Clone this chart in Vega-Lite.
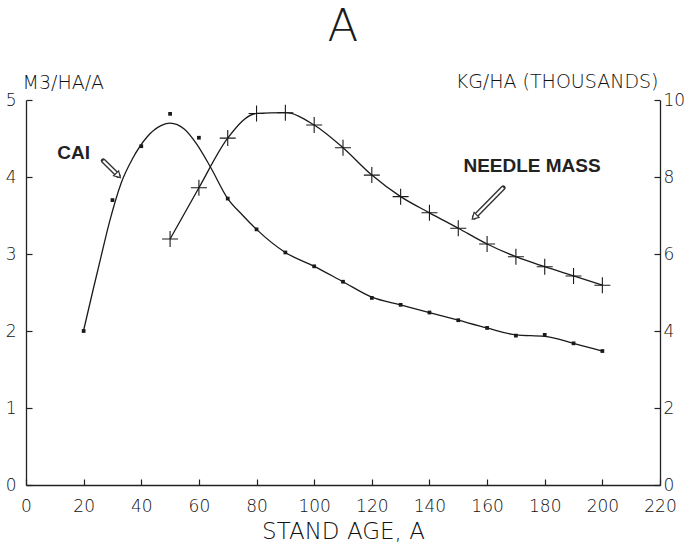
{
  "$schema": "https://vega.github.io/schema/vega-lite/v6.json",
  "width": 634,
  "height": 385,
  "autosize": "none",
  "padding": {"left": 26, "top": 100, "right": 30, "bottom": 64},
  "background": "white",
  "title": {"text": "A", "fontSize": 45, "font": "DejaVu Sans", "fontWeight": 300, "color": "#1a1a1a", "anchor": "middle", "frame": "group", "offset": 22},
  "config": {
    "view": {"stroke": null},
    "axis": {"labelFont": "DejaVu Sans", "labelFontWeight": 200, "labelColor": "#111", "labelFontSize": 17, "titleFont": "DejaVu Sans", "titleFontWeight": 200, "titleColor": "#111", "domainColor": "#222", "tickColor": "#222", "domainWidth": 1.3, "tickWidth": 1.2, "grid": false},
    "text": {"font": "DejaVu Sans"}
  },
  "datasets": {
    "cai_pts": [
      {"age": 20, "cai": 2.0}, {"age": 30, "cai": 3.70}, {"age": 40, "cai": 4.40}, {"age": 50, "cai": 4.82},
      {"age": 60, "cai": 4.51}, {"age": 70, "cai": 3.72}, {"age": 80, "cai": 3.32}, {"age": 90, "cai": 3.02},
      {"age": 100, "cai": 2.84}, {"age": 110, "cai": 2.64}, {"age": 120, "cai": 2.43}, {"age": 130, "cai": 2.34},
      {"age": 140, "cai": 2.24}, {"age": 150, "cai": 2.14}, {"age": 160, "cai": 2.04}, {"age": 170, "cai": 1.94},
      {"age": 180, "cai": 1.95}, {"age": 190, "cai": 1.84}, {"age": 200, "cai": 1.74}
    ],
    "cai_fit": [
      {"age": 20, "cai": 2.01}, {"age": 23, "cai": 2.49}, {"age": 26, "cai": 2.96}, {"age": 29, "cai": 3.42},
      {"age": 33, "cai": 3.92}, {"age": 37, "cai": 4.24}, {"age": 42, "cai": 4.52}, {"age": 47, "cai": 4.67},
      {"age": 50, "cai": 4.70}, {"age": 55, "cai": 4.62}, {"age": 59, "cai": 4.44}, {"age": 64, "cai": 4.13},
      {"age": 70, "cai": 3.72}, {"age": 75, "cai": 3.51}, {"age": 80, "cai": 3.32}, {"age": 90, "cai": 3.02},
      {"age": 100, "cai": 2.84}, {"age": 110, "cai": 2.64}, {"age": 120, "cai": 2.44}, {"age": 130, "cai": 2.34},
      {"age": 140, "cai": 2.24}, {"age": 150, "cai": 2.14}, {"age": 160, "cai": 2.04}, {"age": 170, "cai": 1.95},
      {"age": 180, "cai": 1.93}, {"age": 190, "cai": 1.84}, {"age": 200, "cai": 1.74}
    ],
    "needle": [
      {"age": 50, "mass": 6.39}, {"age": 60, "mass": 7.72}, {"age": 70, "mass": 9.01}, {"age": 80, "mass": 9.65},
      {"age": 90, "mass": 9.67}, {"age": 100, "mass": 9.35}, {"age": 110, "mass": 8.76}, {"age": 120, "mass": 8.05},
      {"age": 130, "mass": 7.49}, {"age": 140, "mass": 7.07}, {"age": 150, "mass": 6.67}, {"age": 160, "mass": 6.26},
      {"age": 170, "mass": 5.93}, {"age": 180, "mass": 5.67}, {"age": 190, "mass": 5.43}, {"age": 200, "mass": 5.19}
    ],
    "labels": [
      {"label": "CAI", "age": 16.5, "val": 4.31},
      {"label": "NEEDLE MASS", "age": 175.6, "val": 4.14}
    ],
    "arrows": [
      {"name": "CAI", "age": 26.8, "val": 4.21, "age2": 32.0, "val2": 4.02},
      {"name": "NEEDLE MASS", "age": 165.6, "val": 3.86, "age2": 155.6, "val2": 3.48}
    ]
  },
  "layer": [
    {
      "layer": [
        {
          "data": {"name": "cai_fit"},
          "mark": {"type": "line", "interpolate": "monotone", "color": "#1a1a1a", "strokeWidth": 1.3},
          "encoding": {
            "x": {"field": "age", "type": "quantitative", "scale": {"domain": [0, 220], "nice": false},
              "axis": {"values": [0,10,20,30,40,50,60,70,80,90,100,110,120,130,140,150,160,170,180,190,200,210,220],
                "labelExpr": "datum.value % 20 === 0 ? datum.label : ''", "tickSize": -6, "labelPadding": 19,
                "title": "STAND AGE, A", "titleFontSize": 23, "titlePadding": 6, "labelFlush": false}},
            "y": {"field": "cai", "type": "quantitative", "scale": {"domain": [0, 5], "nice": false},
              "axis": {"values": [0,1,2,3,4,5], "format": "d", "tickSize": -6, "labelPadding": 16, "title": "M3/HA/A", "titleFontSize": 19,
                "titleAngle": 0, "titleAlign": "left", "titleBaseline": "alphabetic", "titleX": -4, "titleY": -12}}
          }
        },
        {
          "data": {"name": "cai_pts"},
          "mark": {"type": "point", "shape": "square", "filled": true, "size": 14, "color": "#1a1a1a", "opacity": 1},
          "encoding": {
            "x": {"field": "age", "type": "quantitative"},
            "y": {"field": "cai", "type": "quantitative"}
          }
        },
        {
          "data": {"name": "arrows"},
          "mark": {"type": "rule", "color": "#333", "strokeWidth": 5, "strokeCap": "round"},
          "encoding": {
            "x": {"field": "age", "type": "quantitative"},
            "y": {"field": "val", "type": "quantitative"},
            "x2": {"field": "age2"},
            "y2": {"field": "val2"}
          }
        },
        {
          "data": {"name": "arrows"},
          "mark": {"type": "rule", "color": "white", "strokeWidth": 2.2, "strokeCap": "butt"},
          "encoding": {
            "x": {"field": "age", "type": "quantitative"},
            "y": {"field": "val", "type": "quantitative"},
            "x2": {"field": "age2"},
            "y2": {"field": "val2"}
          }
        },
        {
          "data": {"name": "arrows"},
          "transform": [{"filter": "datum.name === 'CAI'"}],
          "mark": {"type": "point", "shape": "triangle-up", "size": 50, "filled": true, "fill": "white", "stroke": "#333", "strokeWidth": 1.2, "angle": 136, "opacity": 1},
          "encoding": {
            "x": {"field": "age2", "type": "quantitative"},
            "y": {"field": "val2", "type": "quantitative"}
          }
        },
        {
          "data": {"name": "arrows"},
          "transform": [{"filter": "datum.name === 'NEEDLE MASS'"}],
          "mark": {"type": "point", "shape": "triangle-up", "size": 50, "filled": true, "fill": "white", "stroke": "#333", "strokeWidth": 1.2, "angle": 225, "opacity": 1},
          "encoding": {
            "x": {"field": "age2", "type": "quantitative"},
            "y": {"field": "val2", "type": "quantitative"}
          }
        },
        {
          "data": {"name": "labels"},
          "mark": {"type": "text", "fontSize": 19, "fontWeight": "bold", "color": "#222", "font": "Liberation Sans"},
          "encoding": {
            "x": {"field": "age", "type": "quantitative"},
            "y": {"field": "val", "type": "quantitative"},
            "text": {"field": "label"}
          }
        }
      ]
    },
    {
      "layer": [
        {
          "data": {"name": "needle"},
          "mark": {"type": "line", "interpolate": "monotone", "color": "#1a1a1a", "strokeWidth": 1.3},
          "encoding": {
            "x": {"field": "age", "type": "quantitative"},
            "y": {"field": "mass", "type": "quantitative", "scale": {"domain": [0, 10], "nice": false},
              "axis": {"orient": "right", "values": [0,2,4,6,8,10], "format": "d", "tickSize": -6, "labelPadding": 9, "title": "KG/HA (THOUSANDS)", "titleFontSize": 19,
                "titleAngle": 0, "titleAlign": "right", "titleBaseline": "alphabetic", "titleX": -2, "titleY": -13}}
          }
        },
        {
          "data": {"name": "needle"},
          "mark": {"type": "point", "shape": "M-1,0L1,0M0,-1L0,1", "filled": false, "size": 256, "stroke": "#1a1a1a", "strokeWidth": 1.1, "opacity": 1},
          "encoding": {
            "x": {"field": "age", "type": "quantitative"},
            "y": {"field": "mass", "type": "quantitative"}
          }
        }
      ]
    }
  ],
  "resolve": {"scale": {"y": "independent"}}
}
